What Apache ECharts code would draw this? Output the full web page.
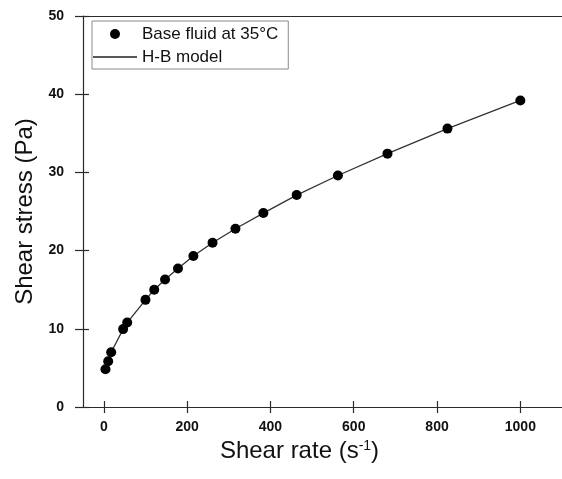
<!DOCTYPE html>
<html>
<head>
<meta charset="utf-8">
<script src="https://cdn.jsdelivr.net/npm/echarts@6/dist/echarts.min.js"></script>
<style>
html,body{margin:0;padding:0;background:#fff;}
#chart{width:562px;height:479px;}
</style>
</head>
<body>
<div id="chart"></div>
<script>
var shearRate = [4, 10.5, 17.6, 46.4, 56.2, 100, 121, 147, 178, 215, 261, 316, 383, 463, 562, 681, 825, 1000];
var shearStress = [4.83, 5.86, 7.0, 9.96, 10.8, 13.7, 15.0, 16.3, 17.7, 19.3, 21.0, 22.8, 24.8, 27.1, 29.6, 32.4, 35.6, 39.2];
// H-B model curve (passes through the points)
var modelRate = [4, 10.5, 17.6, 46.4, 56.2, 100, 121, 147, 178, 215, 261, 316, 383, 463, 562, 681, 825, 1000];
var modelStress = [4.83, 5.86, 7.0, 9.96, 10.8, 13.7, 15.0, 16.3, 17.7, 19.3, 21.0, 22.8, 24.8, 27.1, 29.6, 32.4, 35.6, 39.2];
var xTicks = [0, 200, 400, 600, 800, 1000];
var yTicks = [0, 10, 20, 30, 40, 50];
var seriesNames = ['Base fluid at 35°C', 'H-B model'];

var FONT = '"Liberation Sans", Arial, sans-serif';
var AX = '#2a2a2a';

function pairs(xs, ys) { return xs.map(function (x, i) { return [x, ys[i]]; }); }

var chart = echarts.init(document.getElementById('chart'), null, {renderer: 'canvas'});
chart.setOption({
  backgroundColor: '#fff',
  animation: false,
  textStyle: {fontFamily: FONT},
  grid: {left: 83, top: 16, width: 483, height: 391, show: false, containLabel: false},
  legend: {
    data: [
      {name: seriesNames[0], icon: 'circle'},
      {name: seriesNames[1], icon: 'path://M0,0L44,0L44,1.4L0,1.4Z', itemStyle: {color: '#222'}}
    ],
    orient: 'vertical',
    left: 92, top: 21,
    itemWidth: 44, itemHeight: 10, itemGap: 5,
    padding: [4, 10, 3, 1],
    borderColor: '#8a8a8a', borderWidth: 1,
    textStyle: {fontFamily: FONT, fontSize: 17, color: '#111', lineHeight: 18}
  },
  xAxis: [{
    type: 'value', min: -50, max: 1100,
    name: 'Shear rate (s{sup|-1})', nameLocation: 'middle', nameGap: 8,
    nameTextStyle: {fontFamily: FONT, fontSize: 24, color: '#111', verticalAlign: 'top', padding: [0, 46, 0, 0],
      rich: {sup: {fontFamily: FONT, fontSize: 14, color: '#111', verticalAlign: 'top', padding: [0, 0, 10, 0]}}},
    axisLine: {show: true, onZero: false, lineStyle: {color: AX, width: 1.2}},
    axisTick: {show: true, inside: false, length: 6, lineStyle: {color: AX, width: 1.2}, customValues: xTicks},
    axisLabel: {show: true, margin: 13, fontFamily: FONT, fontSize: 14, fontWeight: 'bold', color: '#111', customValues: xTicks,
      formatter: function (v) { return String(v); }},
    splitLine: {show: false}
  }, {
    type: 'value', min: -50, max: 1100, position: 'bottom', offset: 0,
    axisLine: {show: false, onZero: false},
    axisTick: {show: true, inside: true, length: 6, lineStyle: {color: AX, width: 1.2}, customValues: xTicks},
    axisLabel: {show: false},
    splitLine: {show: false}
  }, {
    type: 'value', min: -50, max: 1100, position: 'top', offset: 0,
    axisLine: {show: true, onZero: false, lineStyle: {color: AX, width: 1.2}},
    axisTick: {show: false},
    axisLabel: {show: false},
    splitLine: {show: false}
  }],
  yAxis: [{
    type: 'value', min: 0, max: 50, interval: 10,
    name: 'Shear stress (Pa)', nameLocation: 'middle', nameGap: 40,
    nameTextStyle: {fontFamily: FONT, fontSize: 24, color: '#111'},
    axisLine: {show: true, onZero: false, lineStyle: {color: AX, width: 1.2}},
    axisTick: {show: true, inside: false, length: 8, lineStyle: {color: AX, width: 1.2}},
    axisLabel: {show: true, margin: 19, fontFamily: FONT, fontSize: 14, fontWeight: 'bold', color: '#111', customValues: yTicks},
    splitLine: {show: false}
  }, {
    type: 'value', min: 0, max: 50, interval: 10, position: 'left', offset: 0,
    axisLine: {show: false, onZero: false},
    axisTick: {show: true, inside: true, length: 6, lineStyle: {color: AX, width: 1.2}},
    axisLabel: {show: false},
    splitLine: {show: false}
  }],
  series: [{
    name: seriesNames[0], type: 'scatter', xAxisIndex: 0, yAxisIndex: 0,
    data: pairs(shearRate, shearStress),
    symbol: 'circle', symbolSize: 10, z: 3,
    itemStyle: {color: '#000', opacity: 1}
  }, {
    name: seriesNames[1], type: 'line', xAxisIndex: 0, yAxisIndex: 0,
    data: pairs(modelRate, modelStress),
    symbol: 'none', showSymbol: false, smooth: false, z: 2,
    lineStyle: {color: '#333', width: 1.3},
    itemStyle: {color: '#333'}
  }]
});
</script>
</body>
</html>
